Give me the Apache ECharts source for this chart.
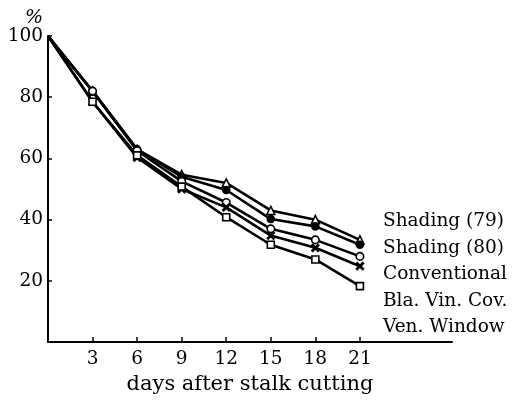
<!DOCTYPE html>
<html>
<head>
<meta charset="utf-8">
<script src="https://cdn.jsdelivr.net/npm/echarts@6/dist/echarts.min.js"></script>
<style>html,body{margin:0;padding:0;background:#fff}#c{width:524px;height:400px}</style>
</head>
<body>
<div id="c"></div>
<script>
var days = [0, 3, 6, 9, 12, 15, 18, 21];
var xTicks = [3, 6, 9, 12, 15, 18, 21];
var yTicks = [20, 40, 60, 80, 100];
var shading79 = [100, 82, 63, 54.7, 52, 43, 40, 33.4];
var shading80 = [100, 82, 63, 54, 49.7, 40.2, 37.8, 31.8];
var conventional = [100, 82, 62.5, 52.5, 45.6, 37, 33.4, 28];
var blaVinCov = [100, 78.5, 60.3, 50, 44, 34.8, 30.8, 24.8];
var venWindow = [100, 78.5, 61, 50.8, 40.8, 31.8, 27, 18.3];
var names = ['Shading (79)', 'Shading (80)', 'Conventional', 'Bla. Vin. Cov.', 'Ven. Window'];

var FONT = '"DejaVu Serif", "Liberation Serif", serif';
function pts(arr){
  return days.map(function(d,i){
    var p = { value: [d, arr[i]] };
    if (i === 0) p.symbol = 'none';
    return p;
  });
}
var xPath = 'path://M0,1.2L1.2,0L5,3.8L8.8,0L10,1.2L6.2,5L10,8.8L8.8,10L5,6.2L1.2,10L0,8.8L3.8,5Z';
function ser(name, arr, symbol, size, fill){
  return {
    name: name, type: 'line', data: pts(arr), symbol: symbol, symbolSize: size,
    showAllSymbol: true, z: 3,
    lineStyle: { color: '#000', width: 2.6 },
    itemStyle: { color: fill, borderColor: '#000', borderWidth: 1.6 },
    emphasis: { disabled: true }, animation: false
  };
}
var chart = echarts.init(document.getElementById('c'));
chart.setOption({
  backgroundColor: '#fff',
  animation: false,
  grid: { left: 48, top: 36, right: 72, bottom: 53 },
  legend: {
    data: names.map(function(n){ return { name: n, icon: 'none' }; }),
    orient: 'vertical', left: 373, top: 203,
    itemWidth: 0, itemHeight: 20, itemGap: 0, selectedMode: false,
    textStyle: { fontFamily: FONT, fontSize: 18.5, lineHeight: 26.5, color: '#000' }
  },
  xAxis: {
    type: 'value', min: 0, max: 27.2, interval: 3,
    name: 'days after stalk cutting', nameLocation: 'middle', nameGap: 29,
    nameTextStyle: { fontFamily: FONT, fontSize: 21, color: '#000' },
    axisLine: { show: true, onZero: false, lineStyle: { color: '#000', width: 2 } },
    axisTick: { show: true, inside: true, length: 5, customValues: xTicks, lineStyle: { color: '#000', width: 1.5 } },
    axisLabel: { customValues: xTicks, margin: 8, fontFamily: FONT, fontSize: 18.5, color: '#000' },
    splitLine: { show: false }
  },
  yAxis: {
    type: 'value', min: 0, max: 100, interval: 20,
    axisLine: { show: true, onZero: false, lineStyle: { color: '#000', width: 2 } },
    axisTick: { show: true, inside: true, length: 4, customValues: yTicks, lineStyle: { color: '#000', width: 1.5 } },
    axisLabel: { customValues: yTicks, margin: 5, padding: [3, 0, 0, 0], fontFamily: FONT, fontSize: 18.5, color: '#000' },
    splitLine: { show: false }
  },
  graphic: [{
    type: 'text', left: 25, top: 9,
    style: { text: '%', font: 'italic 19px ' + FONT, fill: '#000' }
  }],
  series: [
    ser(names[0], shading79, 'triangle', 8, '#fff'),
    ser(names[1], shading80, 'circle', 7, '#000'),
    ser(names[2], conventional, 'circle', 7.5, '#fff'),
    ser(names[3], blaVinCov, xPath, 7, '#000'),
    ser(names[4], venWindow, 'rect', 7, '#fff')
  ]
});
</script>
</body>
</html>
